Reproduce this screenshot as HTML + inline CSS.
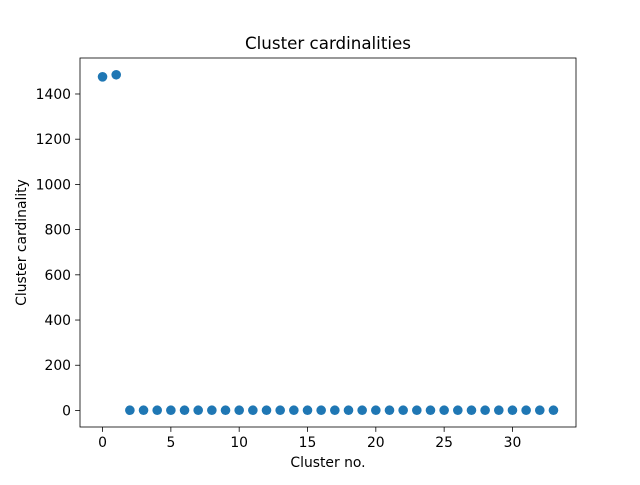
<!DOCTYPE html>
<html><head><meta charset="utf-8"><style>body{margin:0;background:#fff}svg text{font-family:"DejaVu Sans","Liberation Sans",sans-serif;font-size:13.9px;fill:#000}</style></head>
<body>
<svg id="c" width="640" height="480" xmlns="http://www.w3.org/2000/svg">
<rect width="640" height="480" fill="#fff"/>
</svg>
<script>
const clusters = Array.from({length:34},(_,i)=>i);
const cardinalities = [1476,1485,1,1,1,1,1,1,1,1,1,1,1,1,1,1,1,1,1,1,1,1,1,1,1,1,1,1,1,1,1,1,1,1];
const xTicks = [0,5,10,15,20,25,30];
const yTicks = [0,200,400,600,800,1000,1200,1400];
const L=80,R=576,T=58,B=427;
const ns="http://www.w3.org/2000/svg",svg=document.getElementById('c');
const xmin=-1.65,xmax=34.65;
const ymaxD=Math.max(...cardinalities),yminD=Math.min(...cardinalities),pad=(ymaxD-yminD)*0.05;
const ymin=yminD-pad,ymax=ymaxD+pad;
const X=v=>L+(v-xmin)/(xmax-xmin)*(R-L);
const Y=v=>B-(v-ymin)/(ymax-ymin)*(B-T);
function mk(t,a,txt){const e=document.createElementNS(ns,t);for(const k in a)e.setAttribute(k,a[k]);if(txt!=null)e.textContent=txt;svg.appendChild(e);return e;}
clusters.forEach((c,i)=>{const p=mk('circle',{cx:X(c),cy:Y(cardinalities[i]),r:4.8,fill:'#1f77b4'});

});
const f=mk('rect',{x:L,y:T,width:R-L,height:B-T,fill:'none',stroke:'#000','stroke-width':0.8});


xTicks.forEach(v=>{mk('line',{x1:X(v),x2:X(v),y1:B,y2:B+4.9,stroke:'#000','stroke-width':0.8});
const t=mk('text',{x:X(v),y:B+20,'text-anchor':'middle'},v);

});
yTicks.forEach(v=>{mk('line',{x1:L-4.9,x2:L,y1:Y(v),y2:Y(v),stroke:'#000','stroke-width':0.8});
const t=mk('text',{x:L-9,y:Y(v)+5,'text-anchor':'end'},v);

});
const tt=mk('text',{x:(L+R)/2,y:T-9,'text-anchor':'middle',style:'font-size:16.7px'},'Cluster cardinalities');


const xt=mk('text',{x:(L+R)/2,y:467,'text-anchor':'middle'},'Cluster no.');


const yt=mk('text',{x:26,y:(T+B)/2,'text-anchor':'middle',transform:`rotate(-90 26 ${(T+B)/2})`},'Cluster cardinality');


</script>
</body></html>
